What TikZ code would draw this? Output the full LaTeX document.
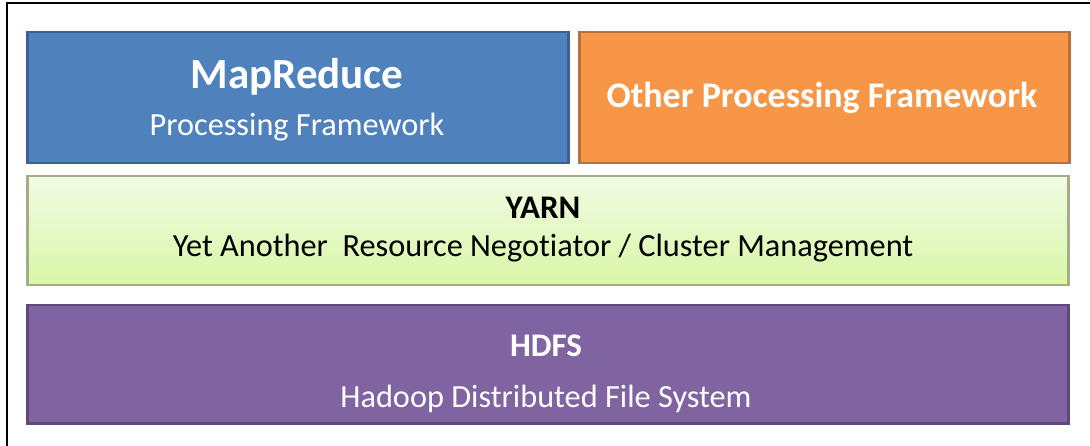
\documentclass[tikz,border=0pt]{standalone}
\usepackage{fontspec}
\setmainfont{Carlito}[Ligatures=NoCommon]
\usepackage{tikz}
\usetikzlibrary{calc}
\definecolor{mrblue}{HTML}{4F81BD}
\definecolor{mrblueb}{HTML}{3A6193}
\definecolor{oporange}{HTML}{F79646}
\definecolor{oporangeb}{HTML}{B8713A}
\definecolor{yarntop}{HTML}{F1FBE3}
\definecolor{yarnbot}{HTML}{D9F6A6}
\definecolor{yarnb}{HTML}{A3AE88}
\definecolor{hdpurple}{HTML}{8064A2}
\definecolor{hdpurpleb}{HTML}{5E4A78}
\tikzset{
 layer/.style={draw,line width=2.5pt,inner sep=0pt,anchor=north west},
 title/.style={font=\fontsize{33}{33}\selectfont\bfseries,anchor=base},
 sub/.style={font=\fontsize{32.3}{32.3}\selectfont,anchor=base}
}

\begin{document}
\begin{tikzpicture}[x=1pt,y=-1pt]
\useasboundingbox (0,0) rectangle (1090,446);
\fill[white] (0,0) rectangle (1090,446);
\draw[line width=2.5pt] (7,446)--(7,3)--(1090,3);
% layers
\node[layer,draw=mrblueb,fill=mrblue,minimum width=541pt,minimum height=131pt] (mapred) at (26,31) {};
\node[layer,draw=oporangeb,fill=oporange,minimum width=490pt,minimum height=131pt] (other) at (578,31) {};
\node[layer,draw=yarnb,top color=yarntop,bottom color=yarnbot,minimum width=1041pt,minimum height=109pt] (yarn) at (26,175) {};
\node[layer,draw=hdpurpleb,fill=hdpurple,minimum width=1041pt,minimum height=118pt] (hdfs) at (26,304) {};
% texts
\node[title,white,font=\fontsize{43}{43}\selectfont\bfseries] (mrtitle) at (297,89) {MapReduce};
\node[sub,white] (mrsub) at (297,136) {Processing Framework};
\node[title,white,font=\fontsize{36}{36}\selectfont\bfseries] (othertitle) at (822,108) {Other Processing Framework};
\node[title,black] (yarntitle) at (543,219) {YARN};
\node[sub,black] (yarnsub) at (543,257) {Yet Another\ \ Resource Negotiator / Cluster Management};
\node[title,white] (hdfstitle) at (546,356) {HDFS};
\node[sub,white] (hdfssub) at (546,407) {Hadoop Distributed File System};
\end{tikzpicture}
\end{document}
